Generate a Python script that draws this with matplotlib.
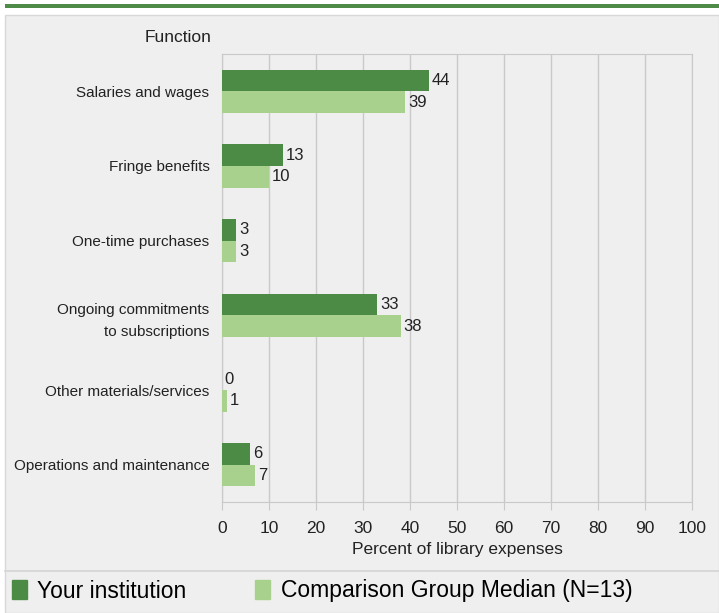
import matplotlib.pyplot as plt
import matplotlib.patches as mpatches
import numpy as np

plt.rcParams['font.family'] = ['Liberation Sans', 'DejaVu Sans']

categories = ['Salaries and wages', 'Fringe benefits', 'One-time purchases',
              'Ongoing commitments\nto subscriptions', 'Other materials/services',
              'Operations and maintenance']
your_institution = [44, 13, 3, 33, 0, 6]
group_median = [39, 10, 3, 38, 1, 7]
series_names = ['Your institution', 'Comparison Group Median (N=13)']

dark = '#4b8b46'
light = '#a9d18e'
bg = '#efefef'
grid_c = '#c9c9c9'
txt = '#222222'

fig = plt.figure(figsize=(7.19, 6.13), dpi=100)

# grey panel + green strip on top
fig.patches.append(mpatches.Rectangle((5/719, 0), 1 - 5/719, 1 - 15/613, transform=fig.transFigure,
                                      facecolor=bg, edgecolor='#d8d8d8', lw=1, zorder=-2))
fig.patches.append(mpatches.Rectangle((5/719, 1 - 8/613), 1 - 5/719, 4/613, transform=fig.transFigure,
                                      facecolor='#4e8a48', edgecolor='none', zorder=-2))
# divider above legend
fig.add_artist(plt.Line2D([5/719, 1], [1 - 571/613, 1 - 571/613], transform=fig.transFigure,
                          color='#d4d4d4', lw=1.2))

ax = fig.add_axes([222/719, 1 - 502/613, 470/719, 448/613])
ax.set_facecolor(bg)

y = np.arange(len(categories))
h = 0.29
b1 = ax.barh(y - h/2, your_institution, height=h, color=dark, zorder=3)
b2 = ax.barh(y + h/2, group_median, height=h, color=light, zorder=3)
ax.bar_label(b1, padding=2, fontsize=12, color=txt)
ax.bar_label(b2, padding=2, fontsize=12, color=txt)

ax.set_xlim(0, 100)
ax.set_ylim(len(categories) - 0.5, -0.5)
ax.set_xticks(range(0, 101, 10))
ax.set_yticks(y)
ax.set_yticklabels(categories, fontsize=11, color=txt)
for lab in ax.get_yticklabels():
    lab.set_linespacing(1.7)
ax.tick_params(axis='y', length=0, pad=9)
ax.tick_params(axis='x', length=6, color=grid_c, labelsize=12.5, labelcolor=txt, pad=8)
ax.grid(axis='x', color=grid_c, lw=1, zorder=0)
for s in ax.spines.values():
    s.set_color(grid_c)
ax.set_xlabel('Percent of library expenses', fontsize=12.5, color=txt, labelpad=4)

fig.text(212/719, 1 - 37/613, 'Function', ha='right', va='center', fontsize=12.5, color=txt)

handles = [mpatches.Patch(color=dark, label=series_names[0]),
           mpatches.Patch(color=light, label=series_names[1])]
fig.legend(handles=handles, loc='center left', bbox_to_anchor=(3/719, 1 - 591/613), ncol=2,
           frameon=False, fontsize=16.5, handlelength=0.65, handleheight=0.9, handletextpad=0.45,
           columnspacing=3.0, borderaxespad=0)

fig.savefig('out.png', dpi=100, facecolor='white')
